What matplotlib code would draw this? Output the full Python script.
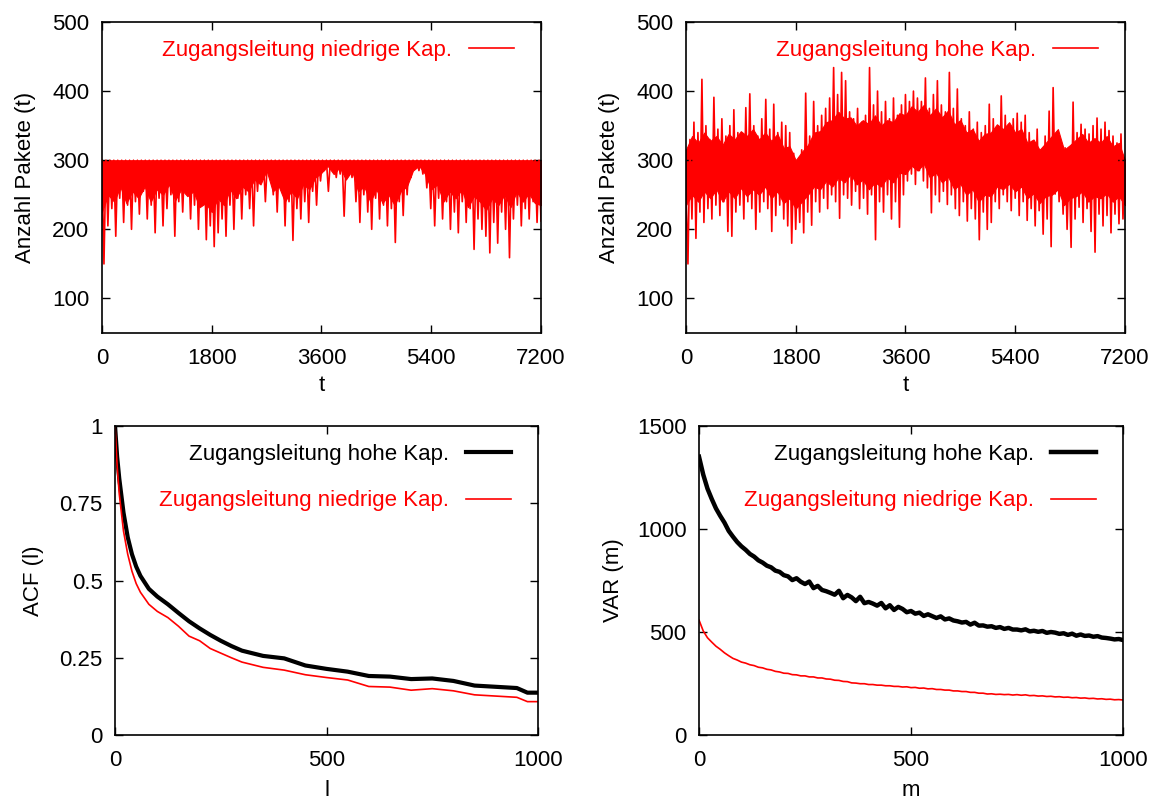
import numpy as np
import matplotlib
matplotlib.use("Agg")
import matplotlib.pyplot as plt

plt.rcParams['font.family'] = ['Liberation Sans', 'DejaVu Sans']
plt.rcParams['font.size'] = 16

# ---- packet counts per second, access link with low capacity (capped at 300) ----
low_cap = [
    300, 150, 300, 205, 300, 230, 300, 190, 300, 245, 300, 210, 300, 235, 300, 200, 300, 240, 300, 222,
    300, 255, 300, 215, 300, 235, 300, 195, 300, 245, 300, 205, 300, 230, 300, 250, 300, 190, 300, 240,
    300, 225, 300, 260, 300, 215, 300, 235, 300, 200, 300, 250, 300, 185, 300, 205, 300, 175, 300, 195,
    300, 215, 300, 190, 300, 235, 300, 200, 300, 245, 300, 215, 300, 250, 300, 230, 300, 205, 300, 255,
    300, 270, 300, 240, 300, 285, 300, 250, 300, 225, 300, 260, 300, 205, 300, 240, 300, 184, 300, 230,
    300, 215, 300, 240, 300, 210, 300, 255, 300, 235, 300, 270, 300, 285, 300, 255, 300, 290, 300, 275,
    300, 280, 300, 219, 300, 285, 300, 275, 300, 240, 300, 210, 300, 250, 300, 225, 300, 200, 300, 245,
    300, 215, 300, 235, 300, 205, 300, 230, 300, 181, 300, 240, 300, 220, 300, 250, 300, 275, 300, 290,
    300, 285, 300, 280, 300, 260, 300, 230, 300, 205, 300, 245, 300, 215, 300, 240, 300, 200, 300, 225,
    300, 195, 300, 240, 300, 210, 300, 230, 300, 171, 300, 215, 300, 200, 300, 190, 300, 166, 300, 210,
    300, 180, 300, 225, 300, 200, 300, 159, 300, 215, 300, 235, 300, 205, 300, 230, 300, 215, 300, 240,
    300, 210, 300, 212,
]
# lower edge of the dense bulk of low-capacity samples, every 100 s
low_core_bottom = [
    225, 250, 240, 262, 238, 255, 245, 262, 240, 258,
    250, 265, 242, 258, 248, 255, 232, 238, 225, 245,
    235, 258, 245, 262, 255, 272, 265, 285, 255, 262,
    240, 255, 245, 265, 258, 275, 282, 292, 280, 290,
    272, 285, 255, 262, 240, 258, 238, 250, 235, 255,
    262, 285, 292, 280, 258, 265, 240, 255, 245, 258,
    232, 248, 240, 228, 245, 235, 250, 232, 255, 240,
    252, 238, 235,
]
LINK_CAP = 300

# ---- packet counts per second, access link with high capacity ----
high_cap = [
    260, 150, 330, 215, 355, 187, 340, 225, 417, 210, 350, 230, 330, 215, 391, 235, 345, 220, 360, 240,
    335, 197, 350, 190, 373, 225, 340, 235, 325, 215, 376, 240, 396, 230, 350, 200, 335, 225, 360, 240,
    388, 230, 345, 197, 381, 220, 340, 235, 355, 215, 350, 205, 340, 180, 310, 200, 300, 210, 315, 195,
    397, 225, 335, 206, 385, 240, 350, 225, 365, 245, 375, 230, 390, 250, 434, 240, 395, 216, 427, 250,
    415, 245, 370, 235, 360, 255, 375, 230, 355, 245, 365, 222, 434, 250, 380, 185, 400, 240, 370, 225,
    385, 250, 360, 215, 390, 240, 365, 203, 380, 250, 395, 270, 385, 280, 400, 265, 390, 285, 385, 270,
    419, 260, 375, 224, 395, 250, 415, 240, 380, 255, 370, 236, 427, 250, 375, 230, 403, 220, 360, 240,
    350, 212, 370, 230, 345, 215, 355, 185, 340, 225, 350, 200, 381, 210, 360, 240, 345, 230, 393, 250,
    365, 240, 350, 227, 360, 245, 368, 220, 355, 240, 365, 213, 340, 230, 325, 205, 345, 227, 315, 193,
    335, 215, 371, 175, 405, 251, 330, 240, 310, 222, 318, 200, 300, 174, 384, 215, 340, 232, 352, 210,
    345, 230, 338, 197, 350, 167, 361, 222, 345, 205, 355, 220, 343, 195, 335, 222, 325, 208, 338, 215,
    300,
]
# edges of the dense bulk of high-capacity samples, every 100 s
high_core_bottom = [
    235, 250, 240, 255, 245, 258, 240, 255, 245, 260,
    248, 258, 250, 262, 245, 255, 238, 245, 230, 240,
    250, 262, 258, 270, 262, 275, 268, 280, 265, 272,
    258, 268, 262, 275, 268, 282, 280, 292, 285, 295,
    275, 282, 268, 276, 258, 266, 250, 258, 240, 250,
    248, 262, 258, 266, 255, 262, 245, 252, 238, 248,
    250, 258, 235, 245, 248, 255, 240, 248, 245, 252,
    240, 248, 235,
]
high_core_top = [
    315, 335, 325, 340, 328, 335, 322, 338, 330, 342,
    335, 345, 330, 340, 328, 338, 318, 320, 300, 312,
    322, 340, 342, 355, 358, 370, 360, 362, 350, 358,
    352, 365, 350, 358, 355, 368, 365, 378, 370, 380,
    365, 375, 362, 372, 352, 358, 340, 345, 328, 338,
    340, 352, 345, 355, 340, 345, 325, 330, 315, 325,
    335, 345, 315, 322, 330, 338, 325, 332, 325, 335,
    320, 325, 300,
]

# ---- autocorrelation function ----
lags = [0, 5, 10, 20, 30, 40, 50, 60, 80, 100, 125, 150, 175, 200, 225, 250, 275, 300,
        350, 400, 450, 500, 550, 600, 650, 700, 750, 800, 850, 900, 950, 975, 1000]
acf_high = [1.0, 0.90, 0.83, 0.72, 0.64, 0.585, 0.545, 0.515, 0.473, 0.448, 0.423, 0.395, 0.368,
            0.345, 0.324, 0.305, 0.288, 0.273, 0.256, 0.248, 0.225, 0.214, 0.205, 0.191, 0.189,
            0.181, 0.183, 0.175, 0.160, 0.156, 0.152, 0.137, 0.137]
acf_low = [1.0, 0.87, 0.78, 0.66, 0.585, 0.53, 0.49, 0.462, 0.423, 0.400, 0.380, 0.352, 0.320,
           0.305, 0.280, 0.265, 0.250, 0.236, 0.219, 0.210, 0.195, 0.186, 0.178, 0.157, 0.155,
           0.145, 0.150, 0.143, 0.130, 0.126, 0.122, 0.108, 0.108]

# ---- variance of the aggregated series ----
agg_m = list(range(0, 1001, 10))
var_high = [
    1351, 1264, 1196, 1146, 1100, 1064, 1031, 991, 963, 937, 916,
    899, 879, 866, 848, 837, 822, 814, 798, 792, 776,
    770, 752, 761, 744, 733, 745, 713, 724, 704, 698,
    690, 681, 700, 664, 680, 668, 650, 671, 640, 646,
    638, 628, 641, 615, 630, 607, 622, 612, 596, 602,
    589, 594, 578, 586, 577, 568, 576, 561, 566, 556,
    552, 546, 549, 536, 545, 531, 532, 526, 528, 520,
    524, 515, 520, 512, 512, 508, 513, 503, 506, 501,
    505, 496, 500, 497, 491, 494, 486, 492, 482, 488,
    481, 483, 477, 480, 473, 471, 468, 464, 466, 461,
]
var_low = [
    558, 505, 472, 451, 431, 416, 399, 385, 372, 364, 354,
    349, 341, 337, 329, 326, 319, 316, 309, 306, 300,
    299, 293, 292, 287, 287, 282, 282, 277, 277, 272,
    271, 266, 265, 260, 259, 253, 252, 249, 249, 245,
    245, 242, 242, 239, 239, 236, 236, 233, 234, 230,
    231, 227, 228, 224, 225, 221, 221, 218, 218, 214,
    214, 211, 211, 207, 207, 203, 203, 199, 200, 197,
    198, 196, 197, 194, 196, 193, 195, 191, 192, 189,
    190, 187, 188, 185, 186, 183, 184, 181, 182, 179,
    180, 177, 178, 175, 176, 173, 174, 171, 172, 170,
]

time_ticks = [0, 1800, 3600, 5400, 7200]

fig = plt.figure(figsize=(11.55, 7.99), dpi=100)
ax_tl = fig.add_axes([0.0883, 0.5832, 0.3801, 0.3893])
ax_tr = fig.add_axes([0.5939, 0.5832, 0.3801, 0.3893])
ax_bl = fig.add_axes([0.0996, 0.0801, 0.3662, 0.3867])
ax_br = fig.add_axes([0.6052, 0.0801, 0.3671, 0.3867])


def style(ax):
    ax.tick_params(direction='in', top=True, right=True, length=6, width=1,
                   labelsize=16, colors='black')
    ax.tick_params(axis='x', pad=11)
    ax.tick_params(axis='y', pad=9)
    for s in ax.spines.values():
        s.set_linewidth(1.2)


def legend(ax, spacing=1.0):
    width_px = ax.get_window_extent().width
    ax.legend(loc='upper right', bbox_to_anchor=(1 - 9 / width_px, 1.0),
              markerfirst=False, frameon=False, labelcolor='linecolor',
              fontsize=16, handlelength=2.05, handletextpad=0.75,
              labelspacing=spacing, borderaxespad=0.4)


# top row: time series of packet counts
panels = [(ax_tl, low_cap, low_core_bottom, [LINK_CAP] * len(low_core_bottom),
           'Zugangsleitung niedrige Kap.'),
          (ax_tr, high_cap, high_core_bottom, high_core_top,
           'Zugangsleitung hohe Kap.')]
for ax, series, core_lo, core_hi, label in panels:
    t = np.linspace(0, 7200, len(series))
    t_core = np.linspace(0, 7200, len(core_lo))
    ax.fill_between(t_core, core_lo, core_hi, color='red', lw=0.8)
    ax.plot(t, series, color='red', lw=1.2, label=label)
    ax.set_xlim(0, 7200)
    ax.set_ylim(50, 500)
    ax.set_xticks(time_ticks)
    ax.set_yticks([100, 200, 300, 400, 500])
    ax.set_xlabel('t', fontsize=16)
    ax.set_ylabel('Anzahl Pakete (t)', fontsize=16, labelpad=12)
    style(ax)
    legend(ax)

# bottom left: autocorrelation
ax_bl.plot(lags, acf_high, color='black', lw=3.0, label='Zugangsleitung hohe Kap.')
ax_bl.plot(lags, acf_low, color='red', lw=1.2, label='Zugangsleitung niedrige Kap.')
ax_bl.set_xlim(0, 1000)
ax_bl.set_ylim(0, 1)
ax_bl.set_xticks([0, 500, 1000])
ax_bl.set_yticks([0, 0.25, 0.5, 0.75, 1])
ax_bl.set_yticklabels(['0', '0.25', '0.5', '0.75', '1'])
ax_bl.set_xlabel('l', fontsize=16, labelpad=6)
ax_bl.set_ylabel('ACF (l)', fontsize=16, labelpad=11)
style(ax_bl)
legend(ax_bl, spacing=1.15)

# bottom right: variance-time
ax_br.plot(agg_m, var_high, color='black', lw=3.2, label='Zugangsleitung hohe Kap.')
ax_br.plot(agg_m, var_low, color='red', lw=1.2, label='Zugangsleitung niedrige Kap.')
ax_br.set_xlim(0, 1000)
ax_br.set_ylim(0, 1500)
ax_br.set_xticks([0, 500, 1000])
ax_br.set_yticks([0, 500, 1000, 1500])
ax_br.set_xlabel('m', fontsize=16, labelpad=6)
ax_br.set_ylabel('VAR (m)', fontsize=16, labelpad=9)
style(ax_br)
legend(ax_br, spacing=1.15)

fig.savefig('out.png', dpi=100)
